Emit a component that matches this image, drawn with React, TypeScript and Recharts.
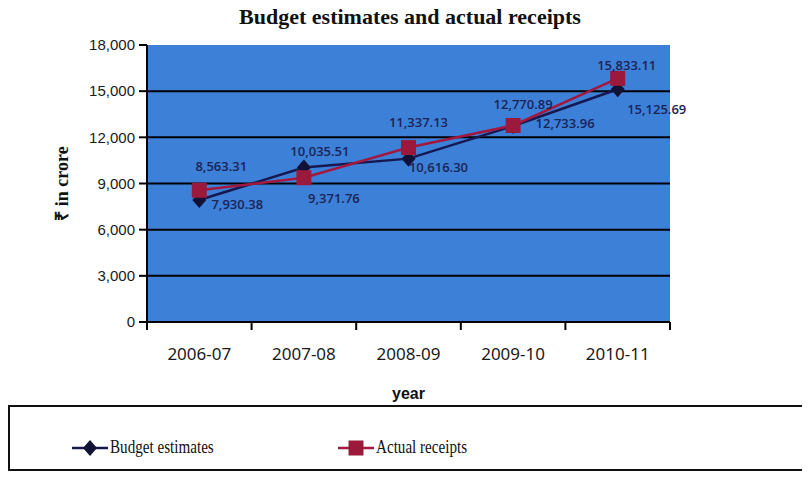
import React from 'react';
import { LineChart, Line, XAxis, YAxis, CartesianGrid, LabelList } from 'recharts';

const years = ['2006-07', '2007-08', '2008-09', '2009-10', '2010-11'];
const budgetEstimates = [7930.38, 10035.51, 10616.3, 12733.96, 15125.69];
const actualReceipts = [8563.31, 9371.76, 11337.13, 12770.89, 15833.11];
const yTicks = [0, 3000, 6000, 9000, 12000, 15000, 18000];

const data = years.map((year, i) => ({
    year,
    budget: budgetEstimates[i],
    actual: actualReceipts[i],
}));

// label nudges (px) relative to each point, as placed in the original
const budgetLabelOffset = [[38, 4], [16, -17], [30, 8], [52, -3], [39, 20]];
const actualLabelOffset = [[22, -24], [30, 20], [10, -26], [10, -21], [9, -13]];

const BLUE_BG = '#3d80d8';
const NAVY = '#17184f';
const MAROON = '#a3183e';
const TICK = 8;
const fmt = (v: number) => v.toLocaleString('en-US', { minimumFractionDigits: 2, maximumFractionDigits: 2 });

const Diamond = (props: any) => {
    const { cx, cy } = props;
    if (cx == null || cy == null) return null;
    return <path d={`M${cx},${cy - 8} L${cx + 7},${cy} L${cx},${cy + 8} L${cx - 7},${cy} Z`} fill="#121236" />;
};

const Square = (props: any) => {
    const { cx, cy } = props;
    if (cx == null || cy == null) return null;
    return <rect x={cx - 7.5} y={cy - 7.5} width={15} height={15} fill="#9b1a3b" />;
};

// category label plus tick marks on the band edges (Excel style)
const YearTick = (props: any) => {
    const { x, y, payload, index, visibleTicksCount } = props;
    const axisY = y - TICK;
    const half = payload.offset || 0;
    const isLast = index === visibleTicksCount - 1;
    return (
        <g>
            <line x1={x - half} y1={axisY} x2={x - half} y2={axisY + TICK} stroke="#000" strokeWidth={2} />
            {isLast && <line x1={x + half} y1={axisY} x2={x + half} y2={axisY + TICK} stroke="#000" strokeWidth={2} />}
            <text x={x} y={axisY + 38} textAnchor="middle" fontFamily="Noto Sans" fontSize={17} fill="#1a1a1a">
                {payload.value}
            </text>
        </g>
    );
};

const makeLabel = (offsets: number[][]) => (props: any) => {
    const { x, y, value, index } = props;
    const [dx, dy] = offsets[index] || [0, -12];
    return (
        <text x={x + dx} y={y + dy} textAnchor="middle" dominantBaseline="central"
            fontFamily="Open Sans" fontWeight={600} fontSize={13} fill="#1b2457">
            {fmt(value)}
        </text>
    );
};

const YLabel = (props: any) => {
    const { viewBox } = props;
    const cx = 62;
    const cy = viewBox.y + viewBox.height / 2;
    return (
        <text x={cx} y={cy} transform={`rotate(-90, ${cx}, ${cy})`} textAnchor="middle" dominantBaseline="central"
            fontFamily="Liberation Serif" fontWeight="bold" fontSize={18} fill="#111">
            ₹ in crore
        </text>
    );
};

const legendText: React.CSSProperties = {
    fontFamily: 'Liberation Serif', fontSize: 18, color: '#111', marginLeft: 2,
    display: 'inline-block', transform: 'scaleX(0.84)', transformOrigin: 'left center', whiteSpace: 'nowrap',
};

const App: React.FC = () => {
    return (
        <div style={{ position: 'relative', width: 810, height: 481, margin: '-8px 0 0 -8px', background: '#fff', overflow: 'hidden' }}>
            <div style={{ position: 'absolute', top: 4, left: 0, width: 820, textAlign: 'center', fontFamily: 'Liberation Serif', fontWeight: 'bold', fontSize: 22, color: '#111' }}>
                Budget estimates and actual receipts
            </div>
            <LineChart width={810} height={481} data={data} margin={{ top: 45, right: 140, left: 0, bottom: 79 }}>
                <CartesianGrid vertical={false} horizontalValues={[3000, 6000, 9000, 12000, 15000]}
                    stroke="#000" strokeWidth={2} fill={BLUE_BG} fillOpacity={1} />
                <XAxis dataKey="year" scale="band" stroke="#000" strokeWidth={2} tickLine={false} height={80}
                    tickSize={TICK} tickMargin={0} interval={0} tick={<YearTick />}
                    label={{ value: 'year', position: 'insideBottom', offset: 3, fontFamily: 'Liberation Sans', fontWeight: 'bold', fontSize: 16, fill: '#111' }} />
                <YAxis width={147} domain={[0, 18000]} ticks={yTicks} interval={0} tickSize={TICK} tickMargin={4}
                    stroke="#000" strokeWidth={2} tickFormatter={(v: number) => v.toLocaleString('en-US')}
                    tick={{ fontFamily: 'Liberation Sans', fontSize: 15, fill: '#1a1a1a' }}
                    label={<YLabel />} />
                <Line dataKey="budget" name="Budget estimates" stroke={NAVY} strokeWidth={2.5}
                    dot={<Diamond />} activeDot={false} isAnimationActive={false}>
                    <LabelList dataKey="budget" content={makeLabel(budgetLabelOffset)} />
                </Line>
                <Line dataKey="actual" name="Actual receipts" stroke={MAROON} strokeWidth={2.5}
                    dot={<Square />} activeDot={false} isAnimationActive={false}>
                    <LabelList dataKey="actual" content={makeLabel(actualLabelOffset)} />
                </Line>
            </LineChart>
            <div style={{ position: 'absolute', top: 405, left: 8, width: 820, height: 66, border: '2px solid #111', boxSizing: 'border-box' }}>
                <div style={{ position: 'absolute', left: 62, top: 30, display: 'flex', alignItems: 'center' }}>
                    <svg width={36} height={16}>
                        <line x1={0} y1={8} x2={36} y2={8} stroke={NAVY} strokeWidth={2.5} />
                        <Diamond cx={18} cy={8} />
                    </svg>
                    <span style={legendText}>Budget estimates</span>
                </div>
                <div style={{ position: 'absolute', left: 328, top: 30, display: 'flex', alignItems: 'center' }}>
                    <svg width={36} height={16}>
                        <line x1={0} y1={8} x2={36} y2={8} stroke={MAROON} strokeWidth={2.5} />
                        <Square cx={18} cy={8} />
                    </svg>
                    <span style={legendText}>Actual receipts</span>
                </div>
            </div>
        </div>
    );
};

export default App;
